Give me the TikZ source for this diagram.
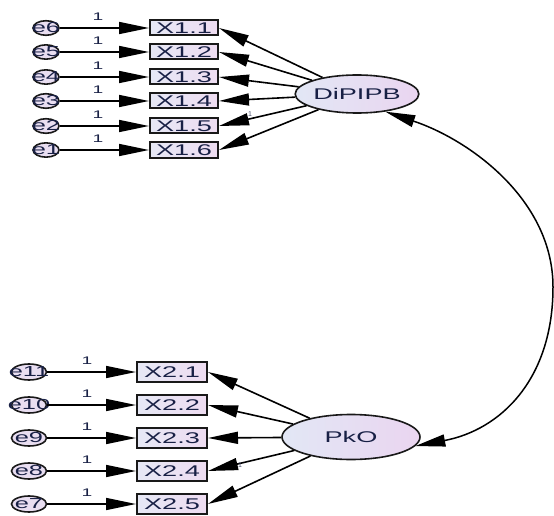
\documentclass[tikz,border=0pt]{standalone}
\usepackage{fontspec}
\setmainfont{Liberation Sans}
\usetikzlibrary{arrows.meta,shapes.geometric}

\definecolor{ink}{HTML}{182045}
\definecolor{boxL}{HTML}{E6E8F5}
\definecolor{boxR}{HTML}{EEDCF1}
\definecolor{latL}{HTML}{E2E7F5}
\definecolor{latR}{HTML}{EAD5F0}
\definecolor{errfill}{HTML}{E9DEF1}

% horizontally widened text, as in the AMOS output
\newcommand{\strW}[1]{\scalebox{1.75}[1]{#1}}

\tikzset{
  obs/.style={rectangle, draw=black!90, line width=2pt, inner sep=0pt,
    left color=boxL, right color=boxR, text=ink,
    font=\fontsize{15.5}{15.5}\selectfont},
  obstop/.style={obs, minimum width=68pt, minimum height=15pt},
  obsbot/.style={obs, minimum width=70pt, minimum height=20pt},
  err/.style={ellipse, draw=black!90, line width=1.6pt, inner sep=0pt,
    fill=errfill, text=ink, font=\fontsize{14.5}{14.5}\selectfont},
  errtop/.style={err, minimum width=26pt, minimum height=13pt},
  errbot/.style={err, minimum width=35pt, minimum height=16pt},
  lat/.style={ellipse, draw=black!90, line width=1.6pt, inner sep=0pt,
    left color=latL, right color=latR, text=ink,
    font=\fontsize{15.5}{15.5}\selectfont},
  tip/.tip={Triangle[length=30pt,width=12pt]},
  regpath/.style={draw=black, line width=1.6pt, -tip},
  onelab/.style={text=ink, inner sep=0pt, font=\fontsize{11}{11}\selectfont},
  tinylab/.style={text=ink!80, inner sep=0pt, font=\fontsize{7}{7}\selectfont}
}

\begin{document}
\begin{tikzpicture}[x=1pt,y=-1pt]
\useasboundingbox (0,0) rectangle (554,516);

% ---- factor DiPIPB with indicators X1.1 ... X1.6
\node[lat, minimum width=119pt, minimum height=38pt] (D) at (357,94) {\strW{DiPIPB}};
\foreach \i/\y in {1/28,2/52,3/77,4/101,5/126,6/150}{
  \pgfmathtruncatemacro\k{7-\i}
  \node[obstop] (X1\i) at (184,\y) {\strW{X1.\i}};
  \node[errtop] (e\k) at (46,\y) {\makebox[0pt]{\strW{e\k}}};
  \node[onelab] (w1\i) at (98,\y-11) {\strW{1}};
  \draw[regpath] (e\k) -- (X1\i);
  \draw[regpath] (D) -- (X1\i.east);
}
\node[tinylab] (f15) at (250,114) {1};

% ---- factor PkO with indicators X2.1 ... X2.5
\node[lat, minimum width=138pt, minimum height=45pt] (P) at (351,437) {\strW{PkO}};
\foreach \i/\y in {1/372,2/405,3/438,4/471,5/504}{
  \pgfmathtruncatemacro\k{12-\i}
  \node[obsbot] (X2\i) at (172,\y) {\strW{X2.\i}};
  \node[errbot] (e\k) at (29,\y) {\makebox[0pt]{\strW{e\k}}};
  \node[onelab] (w2\i) at (87,\y-11) {\strW{1}};
  \draw[regpath] (e\k) -- (X2\i);
  \draw[regpath] (P) -- (X2\i.east);
}
\node[tinylab] (f24) at (240,465) {1};

% ---- covariance between the two factors
\coordinate (bend) at (553,287);
\draw[draw=black, line width=1.5pt, tip-tip]
  (D.-32) .. controls (470,140) and (553,200) .. (bend)
          .. controls (553,380) and (500,430) .. (P.-8);
\end{tikzpicture}
\end{document}
